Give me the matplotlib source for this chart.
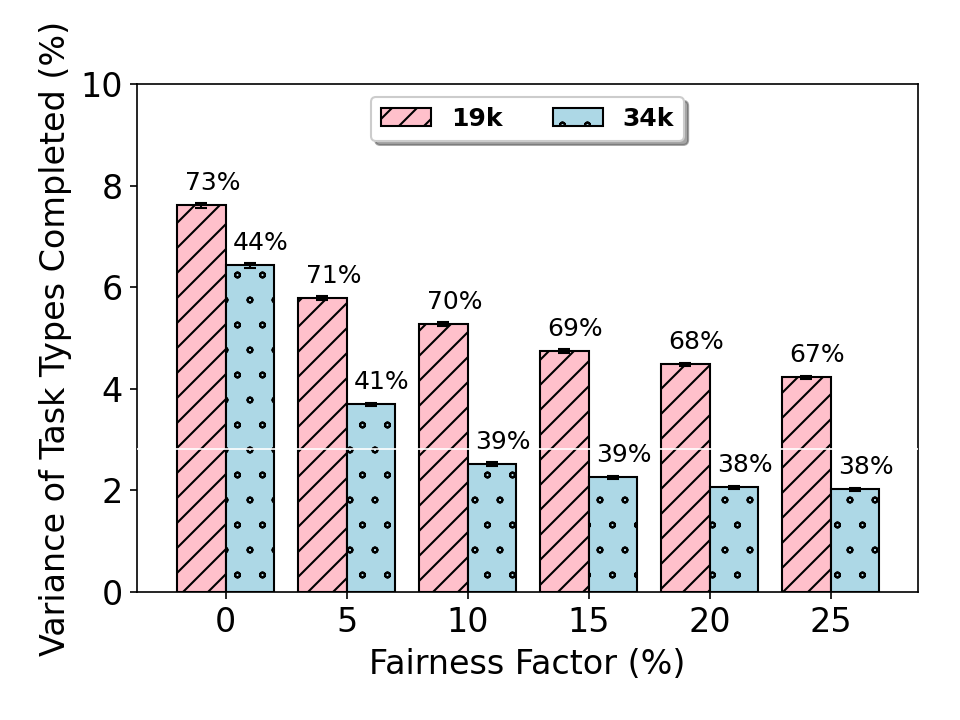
import numpy as np
import matplotlib.pyplot as plt
import matplotlib.hatch

# data
factors = ["0", "5", "10", "15", "20", "25"]
var_19k = [7.62, 5.78, 5.27, 4.74, 4.48, 4.23]
var_34k = [6.43, 3.70, 2.51, 2.26, 2.06, 2.02]
err_19k = [0.05, 0.04, 0.04, 0.04, 0.03, 0.03]
err_34k = [0.05, 0.03, 0.04, 0.03, 0.03, 0.03]
pct_19k = ["73%", "71%", "70%", "69%", "68%", "67%"]
pct_34k = ["44%", "41%", "39%", "39%", "38%", "38%"]
white_line_y = 2.81

plt.rcParams['hatch.linewidth'] = 1.0
# smaller circles for the 'o' hatch
matplotlib.hatch.SmallCircles.size = 0.1

fig, ax = plt.subplots(figsize=(6.4, 4.8), dpi=150)
fig.subplots_adjust(left=0.143, right=0.956, top=0.883, bottom=0.178)

x = np.arange(len(factors))
w = 0.4

ax.bar(x - w / 2, var_19k, w, yerr=err_19k, capsize=3,
       color='pink', edgecolor='black', hatch='//', label='19k',
       error_kw=dict(elinewidth=1, capthick=1))
ax.bar(x + w / 2, var_34k, w, yerr=err_34k, capsize=3,
       color='lightblue', edgecolor='black', hatch='o', label='34k',
       error_kw=dict(elinewidth=1, capthick=1))
ax.axhline(white_line_y, color='white', lw=0.8, zorder=3)

# percentage labels, slightly right of bar centre
off = 0.09
for xi, h, t in zip(x - w / 2, var_19k, pct_19k):
    ax.text(xi + off, h + 0.2, t, ha='center', va='bottom', fontsize=12)
for xi, h, t in zip(x + w / 2, var_34k, pct_34k):
    ax.text(xi + off, h + 0.2, t, ha='center', va='bottom', fontsize=12)

ax.set_xticks(x)
ax.set_xticklabels(factors)
ax.set_xlim(-0.73, 5.72)
ax.set_ylim(0, 10)
ax.set_yticks([0, 2, 4, 6, 8, 10])
ax.tick_params(labelsize=16)
ax.set_xlabel("Fairness Factor (%)", fontsize=16)
ax.set_ylabel("Variance of Task Types Completed (%)", fontsize=16)

ax.legend(loc='upper center', ncol=2, shadow=True,
          prop={'weight': 'bold', 'size': 12})

plt.savefig("out.png", dpi=150)
plt.close()
